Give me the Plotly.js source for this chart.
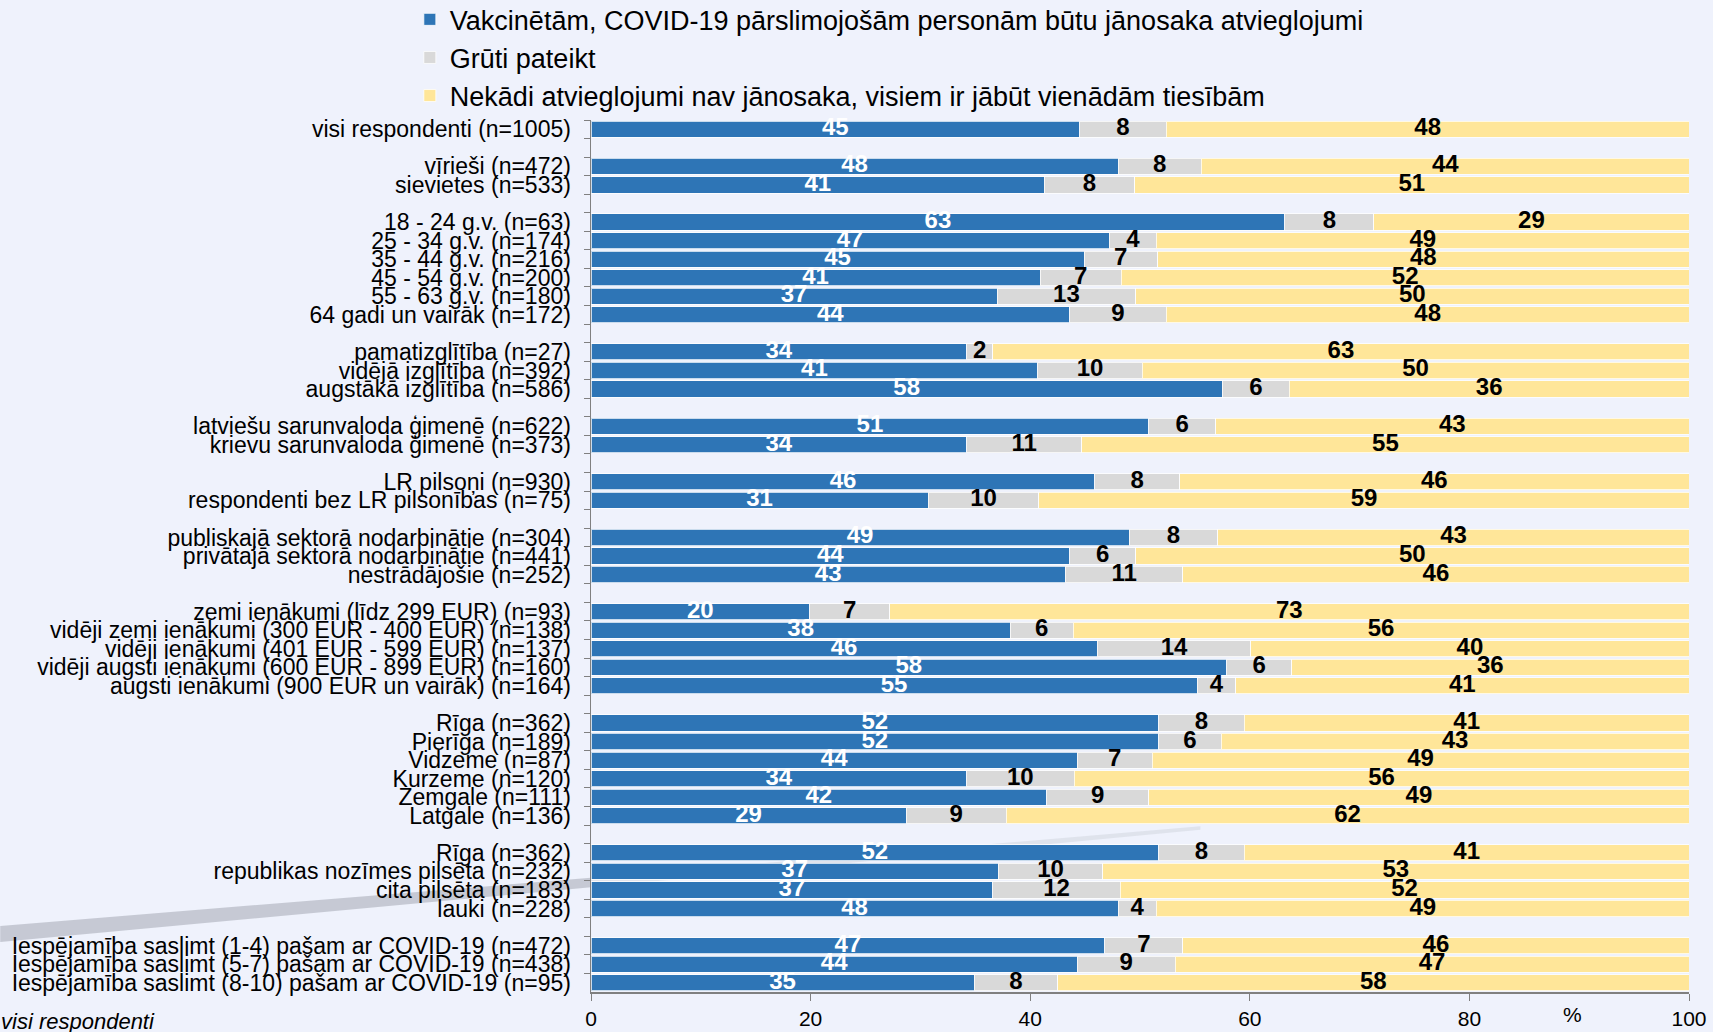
<!DOCTYPE html>
<html>
<head>
<meta charset="utf-8">
<script src="https://cdn.plot.ly/plotly-3.0.1.min.js"></script>
<style>
  html, body { margin: 0; padding: 0; background: #EFF2FC; }
  #chart { width: 1713px; height: 1032px; }
</style>
</head>
<body>
<div id="chart"></div>
<script>
// ---------- DATA ----------
const categories = [
  "visi respondenti (n=1005)",
  "vīrieši (n=472)",
  "sievietes (n=533)",
  "18 - 24 g.v. (n=63)",
  "25 - 34 g.v. (n=174)",
  "35 - 44 g.v. (n=216)",
  "45 - 54 g.v. (n=200)",
  "55 - 63 g.v. (n=180)",
  "64 gadi un vairāk (n=172)",
  "pamatizglītība (n=27)",
  "vidējā izglītība (n=392)",
  "augstākā izglītība (n=586)",
  "latviešu sarunvaloda ģimenē (n=622)",
  "krievu sarunvaloda ģimenē (n=373)",
  "LR pilsoņi (n=930)",
  "respondenti bez LR pilsonības (n=75)",
  "publiskajā sektorā nodarbinātie (n=304)",
  "privātajā sektorā nodarbinātie (n=441)",
  "nestrādājošie (n=252)",
  "zemi ienākumi (līdz 299 EUR) (n=93)",
  "vidēji zemi ienākumi (300 EUR - 400 EUR) (n=138)",
  "vidēji ienākumi (401 EUR - 599 EUR) (n=137)",
  "vidēji augsti ienākumi (600 EUR - 899 EUR) (n=160)",
  "augsti ienākumi (900 EUR un vairāk) (n=164)",
  "Rīga (n=362)",
  "Pierīga (n=189)",
  "Vidzeme (n=87)",
  "Kurzeme (n=120)",
  "Zemgale (n=111)",
  "Latgale (n=136)",
  "Rīga (n=362)\u200B",
  "republikas nozīmes pilsēta (n=232)",
  "cita pilsēta (n=183)",
  "lauki (n=228)",
  "Iespējamība saslimt (1-4) pašam ar COVID-19 (n=472)",
  "Iespējamība saslimt (5-7) pašam ar COVID-19 (n=438)",
  "Iespējamība saslimt (8-10) pašam ar COVID-19 (n=95)"
];
const groupSizes = [1, 2, 6, 3, 2, 2, 3, 5, 6, 4, 3];

const seriesNames = [
  "Vakcinētām, COVID-19 pārslimojošām personām būtu jānosaka atvieglojumi",
  "Grūti pateikt",
  "Nekādi atvieglojumi nav jānosaka, visiem ir jābūt vienādām tiesībām"
];

// bar lengths
const vakcinetiem = [44.5,48.0,41.3,63.2,47.2,44.9,40.9,37.0,43.6,34.2,40.7,57.5,50.8,34.2,45.9,30.7,49.0,43.6,43.2,19.9,38.2,46.1,57.9,55.2,51.7,51.7,44.3,34.2,41.5,28.7,51.7,37.1,36.6,48.0,46.8,44.3,34.9];
const grutiPateikt = [7.9,7.6,8.2,8.1,4.3,6.7,7.4,12.6,8.8,2.4,9.5,6.1,6.1,10.5,7.7,10.1,8.1,6.0,10.7,7.3,5.7,14.0,5.9,3.5,7.8,5.7,6.8,9.8,9.3,9.1,7.8,9.5,11.6,3.5,7.1,8.9,7.6];
const nekadi = [47.6,44.4,50.5,28.7,48.5,48.4,51.7,50.4,47.6,63.4,49.8,36.4,43.1,55.3,46.4,59.2,42.9,50.4,46.1,72.8,56.1,39.9,36.2,41.3,40.5,42.6,48.9,56.0,49.2,62.2,40.5,53.4,51.8,48.5,46.1,46.8,57.5];

// printed value labels
const lblVakcinetiem = [45,48,41,63,47,45,41,37,44,34,41,58,51,34,46,31,49,44,43,20,38,46,58,55,52,52,44,34,42,29,52,37,37,48,47,44,35];
const lblGruti = [8,8,8,8,4,7,7,13,9,2,10,6,6,11,8,10,8,6,11,7,6,14,6,4,8,6,7,10,9,9,8,10,12,4,7,9,8];
const lblNekadi = [48,44,51,29,49,48,52,50,48,63,50,36,43,55,46,59,43,50,46,73,56,40,36,41,41,43,49,56,49,62,41,53,52,49,46,47,58];

const xTicks = [0, 20, 40, 60, 80, 100];

// ---------- BUILD ----------
const colors = ["#2E75B6", "#D9D9D9", "#FFE699"];
const FONT = "Liberation Sans, Arial, sans-serif";

// category order with empty spacer slots between groups
const categoryOrder = [];
let idx = 0;
groupSizes.forEach((n, g) => {
  for (let i = 0; i < n; i++) categoryOrder.push(categories[idx++]);
  if (g < groupSizes.length - 1) categoryOrder.push(" ".repeat(g + 1));
});

const values = [vakcinetiem, grutiPateikt, nekadi];
const labels = [lblVakcinetiem, lblGruti, lblNekadi];

const traces = values.map((v, s) => ({
  type: "bar",
  orientation: "h",
  name: seriesNames[s],
  y: categories,
  x: v,
  marker: { color: colors[s], line: { color: "rgba(255,255,255,0.75)", width: 1 } },
  hoverinfo: "skip"
}));

// value labels centred in each segment
const textColors = ["#FFFFFF", "#000000", "#000000"];
values.forEach((v, s) => {
  const mids = v.map((val, i) => {
    let start = 0;
    for (let k = 0; k < s; k++) start += values[k][i];
    return start + val / 2;
  });
  traces.push({
    type: "scatter",
    mode: "text",
    x: mids,
    y: categories,
    text: labels[s].map(String),
    textposition: "middle center",
    textfont: { family: FONT, size: 24, color: textColors[s], weight: "bold" },
    showlegend: false,
    hoverinfo: "skip",
    cliponaxis: false
  });
});

const layout = {
  width: 1713,
  height: 1032,
  paper_bgcolor: "#EFF2FC",
  plot_bgcolor: "rgba(0,0,0,0)",
  barmode: "stack",
  bargap: 0.13,
  margin: { l: 591, r: 24, t: 120, b: 40, pad: 0, autoexpand: false },
  font: { family: FONT, color: "#000000" },
  showlegend: true,
  legend: {
    x: -0.165, xanchor: "left",
    y: 1.143, yanchor: "top",
    orientation: "v",
    traceorder: "normal",
    font: { family: FONT, size: 27, color: "#000000" },
    bgcolor: "rgba(0,0,0,0)",
    itemwidth: 30,
    tracegroupgap: 0
  },
  xaxis: {
    range: [0, 100],
    tickvals: xTicks,
    ticks: "outside",
    ticklen: 7,
    tickcolor: "#808080",
    showline: true,
    linecolor: "#808080",
    linewidth: 1.5,
    showgrid: false,
    zeroline: false,
    tickfont: { family: FONT, size: 21, color: "#000000" },
    fixedrange: true
  },
  yaxis: {
    type: "category",
    categoryorder: "array",
    categoryarray: categoryOrder,
    range: [categoryOrder.length - 0.5, -0.5],
    autorange: false,
    tickmode: "linear",
    tick0: 0,
    dtick: 1,
    tickson: "boundaries",
    ticks: "outside",
    ticklen: 6,
    tickcolor: "#808080",
    showline: true,
    linecolor: "#808080",
    linewidth: 1.5,
    showgrid: false,
    zeroline: false,
    ticklabelstandoff: 14,
    tickfont: { family: FONT, size: 23, color: "#000000" },
    fixedrange: true
  },
  shapes: [
    {
      type: "path", xref: "paper", yref: "paper", layer: "below",
      path: "M -0.538 0.0757 L -0.538 0.0573 L 0.0 0.120 L 0.0 0.131 Z",
      fillcolor: "rgba(190,194,204,0.85)", line: { width: 0 }
    },
    {
      type: "path", xref: "paper", yref: "paper", layer: "below",
      path: "M 0.0 0.131 L 0.0 0.120 L 0.555 0.186 L 0.555 0.190 Z",
      fillcolor: "rgba(205,208,218,0.45)", line: { width: 0 }
    }
  ],
  annotations: [
    {
      text: "%", xref: "paper", yref: "paper", x: 0.894, y: -0.026,
      xanchor: "center", yanchor: "middle", showarrow: false,
      font: { family: FONT, size: 21, color: "#000000" }
    },
    {
      text: "<i>visi respondenti</i>", xref: "paper", yref: "paper",
      x: -0.395, y: -0.034, xanchor: "right", yanchor: "middle", showarrow: false,
      font: { family: FONT, size: 22, color: "#000000" }
    }
  ]
};

Plotly.newPlot("chart", traces, layout, { displayModeBar: false, staticPlot: true });
</script>
</body>
</html>
